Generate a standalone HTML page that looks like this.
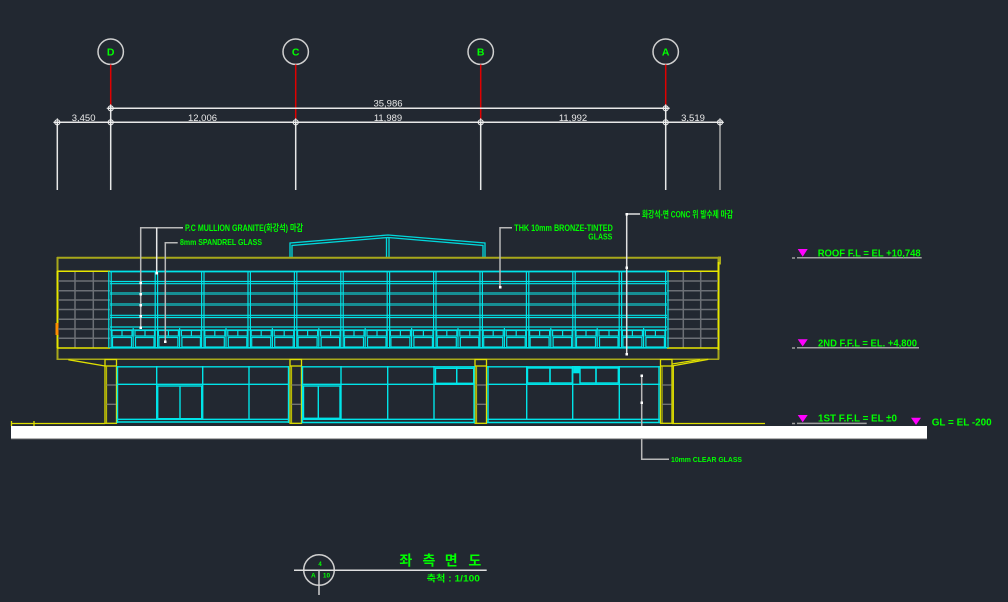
<!DOCTYPE html>
<html><head><meta charset="utf-8"><style>
html,body{margin:0;padding:0;background:#222831;}
svg{display:block;}
.g{fill:#00ff00;font-family:"Liberation Sans","Noto Sans CJK KR",sans-serif;font-weight:bold;}
.d{fill:#e8e8e8;font-family:"Liberation Sans",sans-serif;font-size:9.5px;text-anchor:middle;}
</style></head><body>
<svg width="1008" height="602" viewBox="0 0 1008 602" xmlns="http://www.w3.org/2000/svg">
<rect width="1008" height="602" fill="#222831"/>
<defs>
<g id="units" fill="none" stroke="#00e4e8" stroke-width="1.2">
<rect x="2" y="330.5" width="20" height="5.5"/><line x1="12" y1="330.5" x2="12" y2="336"/>
<rect x="2.5" y="337.5" width="19" height="9.5"/>
<rect x="25" y="330.5" width="19.5" height="5.5"/><line x1="35" y1="330.5" x2="35" y2="336"/>
<rect x="25.5" y="337.5" width="18.5" height="9.5"/>
<line x1="23.2" y1="328" x2="23.2" y2="348"/>
</g>
<g id="mull" stroke="#00e4e8" stroke-width="1.2">
<line x1="-1.2" y1="271" x2="-1.2" y2="348"/><line x1="1.2" y1="271" x2="1.2" y2="348"/>
</g>
<g id="col" fill="none">
<rect x="0" y="359.5" width="11.5" height="63.8" stroke="#e0e000" stroke-width="1.3"/>
<line x1="0" y1="366" x2="11.5" y2="366" stroke="#e0e000" stroke-width="1.3"/>
<line x1="1.6" y1="366" x2="1.6" y2="423" stroke="#c8c800" stroke-width="1"/>
<line x1="1.6" y1="385" x2="11" y2="385" stroke="#777" stroke-width="1.3"/>
<line x1="1.6" y1="404.3" x2="11" y2="404.3" stroke="#777" stroke-width="1.3"/>
</g>
<g id="mk" fill="none" stroke="#eee" stroke-width="1">
<circle r="2.6"/><line x1="-4" y1="0" x2="4" y2="0"/><line x1="0" y1="-4" x2="0" y2="4"/>
</g>
</defs>

<!-- grid bubbles -->
<g stroke="#d0d0d0" stroke-width="1.5" fill="none">
<circle cx="110.7" cy="51.7" r="12.7"/><circle cx="295.7" cy="51.7" r="12.7"/>
<circle cx="480.7" cy="51.7" r="12.7"/><circle cx="665.7" cy="51.7" r="12.7"/>
</g>
<g class="g" font-size="10.5" text-anchor="middle">
<text x="110.7" y="55.7">D</text><text x="295.7" y="55.7">C</text>
<text x="480.7" y="55.7">B</text><text x="665.7" y="55.7">A</text>
</g>
<g stroke="#e00000" stroke-width="1.5">
<line x1="110.7" y1="64.5" x2="110.7" y2="106"/><line x1="295.7" y1="64.5" x2="295.7" y2="120"/>
<line x1="480.7" y1="64.5" x2="480.7" y2="120"/><line x1="665.7" y1="64.5" x2="665.7" y2="106"/>
</g>
<g stroke="#e8e8e8" stroke-width="1.5">
<line x1="110.7" y1="106" x2="110.7" y2="190"/><line x1="295.7" y1="122" x2="295.7" y2="190"/>
<line x1="480.7" y1="122" x2="480.7" y2="190"/><line x1="665.7" y1="106" x2="665.7" y2="190"/>
<line x1="57.3" y1="122" x2="57.3" y2="190"/>
<line x1="108" y1="108.3" x2="669.5" y2="108.3"/>
<line x1="54" y1="122.3" x2="723" y2="122.3"/>
</g>
<line x1="720" y1="122" x2="720" y2="190" stroke="#aaa" stroke-width="1.5"/>
<use href="#mk" x="110.7" y="108.3"/><use href="#mk" x="665.7" y="108.3"/>
<use href="#mk" x="57.3" y="122.3"/><use href="#mk" x="110.7" y="122.3"/>
<use href="#mk" x="295.7" y="122.3"/><use href="#mk" x="480.7" y="122.3"/>
<use href="#mk" x="665.7" y="122.3"/><use href="#mk" x="720" y="122.3"/>
<text class="d" x="388" y="106.5">35,986</text>
<text class="d" x="83.6" y="121">3,450</text>
<text class="d" x="202.5" y="121">12,006</text>
<text class="d" x="388" y="121">11,989</text>
<text class="d" x="573" y="121">11,992</text>
<text class="d" x="693" y="121">3,519</text>

<!-- roof gable -->
<g fill="none" stroke="#00d8dc" stroke-width="1.3">
<polyline points="290,257 290,243 388,235 485,243 485,257"/>
<polyline points="292,257 292,245.5 388,237.5 483,245.5 483,257"/>
<line x1="386.5" y1="237" x2="386.5" y2="257"/><line x1="389" y1="237" x2="389" y2="257"/>
</g>

<!-- upper box -->
<line x1="57" y1="257.7" x2="720" y2="257.7" stroke="#a8a81a" stroke-width="2"/>
<rect x="718" y="256.5" width="3" height="8" fill="#a8a81a"/>
<line x1="57.5" y1="257" x2="57.5" y2="360" stroke="#a8a81a" stroke-width="2"/>
<line x1="57.5" y1="271" x2="57.5" y2="348" stroke="#e6e600" stroke-width="2"/>
<rect x="55.5" y="323" width="3" height="12" fill="#ff8c00"/>
<line x1="718.5" y1="258" x2="718.5" y2="359.5" stroke="#a8a81a" stroke-width="2"/>
<line x1="718.5" y1="262" x2="718.5" y2="350" stroke="#e6e600" stroke-width="2"/>
<line x1="57" y1="359.3" x2="719" y2="359.3" stroke="#a8a81a" stroke-width="1.5"/>

<!-- side grey panels -->
<g stroke="#6c7076" stroke-width="1.5">
<line x1="58" y1="281" x2="110" y2="281"/><line x1="58" y1="290.7" x2="110" y2="290.7"/>
<line x1="58" y1="300" x2="110" y2="300"/><line x1="58" y1="309.5" x2="110" y2="309.5"/>
<line x1="58" y1="319.3" x2="110" y2="319.3"/><line x1="58" y1="329" x2="110" y2="329"/>
<line x1="58" y1="338.3" x2="110" y2="338.3"/>
<line x1="75" y1="271" x2="75" y2="348"/><line x1="93.3" y1="271" x2="93.3" y2="348"/>
<line x1="667" y1="281" x2="718" y2="281"/><line x1="667" y1="290.7" x2="718" y2="290.7"/>
<line x1="667" y1="300" x2="718" y2="300"/><line x1="667" y1="309.5" x2="718" y2="309.5"/>
<line x1="667" y1="319.3" x2="718" y2="319.3"/><line x1="667" y1="329" x2="718" y2="329"/>
<line x1="667" y1="338.3" x2="718" y2="338.3"/>
<line x1="683.3" y1="271" x2="683.3" y2="348"/><line x1="700.7" y1="271" x2="700.7" y2="348"/>
</g>
<g stroke="#e6e600" stroke-width="1.5">
<line x1="57" y1="271.2" x2="110" y2="271.2"/><line x1="57" y1="348" x2="110" y2="348"/>
<line x1="667" y1="271.2" x2="719" y2="271.2"/><line x1="667" y1="348" x2="719" y2="348"/>
</g>

<!-- curtain wall -->
<g stroke-width="3" stroke="#168e93">
<line x1="110" y1="293.5" x2="667" y2="293.5"/><line x1="110" y1="304.5" x2="667" y2="304.5"/>
</g>
<g stroke="#00e4e8" stroke-width="1.2">
<line x1="110" y1="271.5" x2="667" y2="271.5" stroke-width="1.7"/>
<line x1="110" y1="281.5" x2="667" y2="281.5"/><line x1="110" y1="283.7" x2="667" y2="283.7"/>
<line x1="110" y1="315.3" x2="667" y2="315.3"/><line x1="110" y1="317.5" x2="667" y2="317.5"/>
<line x1="110" y1="327" x2="667" y2="327"/>
<line x1="110" y1="330" x2="667" y2="330"/>
<line x1="110" y1="347.8" x2="667" y2="347.8" stroke-width="1.7"/>
</g>
<use href="#mull" x="110"/><use href="#mull" x="156.4"/><use href="#mull" x="202.8"/>
<use href="#mull" x="249.2"/><use href="#mull" x="295.6"/><use href="#mull" x="342"/>
<use href="#mull" x="388.4"/><use href="#mull" x="434.8"/><use href="#mull" x="481.2"/>
<use href="#mull" x="527.6"/><use href="#mull" x="574"/><use href="#mull" x="620.4"/>
<use href="#mull" x="666.8"/>
<use href="#units" x="110"/><use href="#units" x="156.4"/><use href="#units" x="202.8"/>
<use href="#units" x="249.2"/><use href="#units" x="295.6"/><use href="#units" x="342"/>
<use href="#units" x="388.4"/><use href="#units" x="434.8"/><use href="#units" x="481.2"/>
<use href="#units" x="527.6"/><use href="#units" x="574"/><use href="#units" x="620.4"/>

<!-- lower level -->
<g stroke="#e0e000" stroke-width="1.3" fill="none">
<line x1="68.3" y1="359.7" x2="105" y2="366"/>
<line x1="672" y1="366" x2="708.3" y2="359.3"/>
<line x1="672" y1="364" x2="700" y2="359.5"/>
<line x1="673.3" y1="366" x2="673.3" y2="423"/>
</g>
<use href="#col" x="105"/><use href="#col" x="290"/><use href="#col" x="475"/><use href="#col" x="660.5"/>

<g stroke="#00e4e8" stroke-width="1.4" fill="none">
<!-- bay1 -->
<line x1="116.5" y1="366.8" x2="289" y2="366.8"/>
<line x1="116.5" y1="384.3" x2="289" y2="384.3"/>
<line x1="116.5" y1="419.3" x2="289" y2="419.3"/>
<line x1="116.5" y1="422" x2="289" y2="422"/>
<line x1="117.5" y1="366" x2="117.5" y2="423"/>
<line x1="156.7" y1="366" x2="156.7" y2="419.3"/>
<line x1="202.7" y1="366" x2="202.7" y2="419.3"/>
<line x1="249" y1="366" x2="249" y2="419.3"/>
<line x1="288.5" y1="366" x2="288.5" y2="423"/>
<rect x="157.7" y="386" width="44" height="32.7"/>
<line x1="180" y1="386" x2="180" y2="418.7"/>
<!-- bay2 -->
<line x1="301.5" y1="366.8" x2="475" y2="366.8"/>
<line x1="301.5" y1="384.3" x2="475" y2="384.3"/>
<line x1="301.5" y1="419.3" x2="475" y2="419.3"/>
<line x1="301.5" y1="422.5" x2="475" y2="422.5"/>
<line x1="302.5" y1="366" x2="302.5" y2="423"/>
<line x1="341" y1="366" x2="341" y2="419.3"/>
<line x1="387.7" y1="366" x2="387.7" y2="419.3"/>
<line x1="434" y1="366" x2="434" y2="419.3"/>
<line x1="474" y1="366" x2="474" y2="423"/>
<rect x="303.5" y="386" width="36.5" height="32.3"/>
<line x1="318.3" y1="386" x2="318.3" y2="418.3"/>
<rect x="435.5" y="368.3" width="21.2" height="15"/>
<rect x="456.7" y="368.3" width="17" height="15"/>
<!-- bay3 -->
<line x1="487" y1="366.8" x2="660" y2="366.8"/>
<line x1="487" y1="384.3" x2="660" y2="384.3"/>
<line x1="487" y1="419.3" x2="660" y2="419.3"/>
<line x1="487" y1="422.5" x2="660" y2="422.5"/>
<line x1="488" y1="366" x2="488" y2="423"/>
<line x1="526.7" y1="366" x2="526.7" y2="419.3"/>
<line x1="572.7" y1="366" x2="572.7" y2="419.3"/>
<line x1="619.3" y1="366" x2="619.3" y2="419.3"/>
<line x1="659" y1="366" x2="659" y2="423"/>
<rect x="527.5" y="368" width="22.5" height="15"/>
<rect x="550" y="368" width="22.3" height="15"/>
<rect x="580" y="368" width="16" height="15"/>
<rect x="596" y="368" width="22.3" height="15"/>
</g>
<rect x="573.3" y="366" width="6.7" height="7.3" fill="#00e4e8"/>

<!-- ground lines -->
<g stroke="#e0e000" stroke-width="1.3">
<line x1="11" y1="423.5" x2="105" y2="423.5"/><line x1="34" y1="421" x2="34" y2="426"/>
<line x1="11.5" y1="421" x2="11.5" y2="426"/>
<line x1="672" y1="423.5" x2="765" y2="423.5"/>
</g>

<!-- leaders -->
<g fill="none" stroke="#b8b8b8" stroke-width="1.5">
<polyline points="183,227.7 140.7,227.7 140.7,327.7"/>
<polyline points="156.7,227.7 156.7,273.3" stroke="#e8e8e8"/>
<polyline points="177.7,242.7 165.3,242.7 165.3,341.7"/>
<polyline points="512,227.7 500,227.7 500,287.3"/>
<polyline points="640,214 626.7,214 626.7,354" stroke="#e0e0e0"/>
<polyline points="641.7,375.7 641.7,459.3 669,459.3"/>
</g>
<g fill="#fff">
<rect x="139.5" y="281.7" width="2.5" height="2.5"/><rect x="139.5" y="293" width="2.5" height="2.5"/>
<rect x="139.5" y="304" width="2.5" height="2.5"/><rect x="139.5" y="315" width="2.5" height="2.5"/>
<rect x="139.5" y="326.5" width="2.5" height="2.5"/><rect x="155.5" y="272" width="2.5" height="2.5"/>
<rect x="164" y="340.5" width="2.5" height="2.5"/><rect x="499" y="286" width="2.5" height="2.5"/>
<rect x="625.5" y="213" width="2.5" height="2.5"/><rect x="625.5" y="266.5" width="2.5" height="2.5"/>
<rect x="625.5" y="353" width="2.5" height="2.5"/>
<rect x="640.5" y="374.5" width="2.5" height="2.5"/><rect x="640.5" y="401.5" width="2.5" height="2.5"/>
</g>

<!-- ground strip -->
<rect x="11" y="426" width="916" height="12.5" fill="#ffffff"/>
<line x1="11" y1="438.8" x2="927" y2="438.8" stroke="#9a9a9a" stroke-width="1"/>

<!-- labels -->
<text class="g" x="185" y="231" font-size="9" textLength="118" lengthAdjust="spacingAndGlyphs">P.C MULLION GRANITE(화강석) 마감</text>
<text class="g" x="180" y="245" font-size="8.5" textLength="82" lengthAdjust="spacingAndGlyphs">8mm SPANDREL GLASS</text>
<text class="g" x="514.3" y="231" font-size="9" textLength="98.5" lengthAdjust="spacingAndGlyphs">THK 10mm BRONZE-TINTED</text>
<text class="g" x="588.3" y="239.5" font-size="8.5" textLength="24" lengthAdjust="spacingAndGlyphs">GLASS</text>
<text class="g" x="642" y="217.3" font-size="9" textLength="91" lengthAdjust="spacingAndGlyphs">화강석-면 CONC 위 발수제 마감</text>
<text class="g" x="671" y="461.8" font-size="7.5" textLength="71" lengthAdjust="spacingAndGlyphs">10mm CLEAR GLASS</text>

<!-- levels -->
<g fill="#ff00ff">
<polygon points="797.7,249 807.7,249 802.7,256.7"/>
<polygon points="797.7,339.3 807.7,339.3 802.7,346.5"/>
<polygon points="797.7,415 807.7,415 802.7,422.2"/>
<polygon points="911,417.7 921,417.7 916,425"/>
</g>
<g stroke="#a0a0a0" stroke-width="1.5">
<line x1="797" y1="257.8" x2="921.7" y2="257.8"/><line x1="792" y1="258" x2="795" y2="258"/>
<line x1="797" y1="347.8" x2="919" y2="347.8"/><line x1="792" y1="348" x2="795" y2="348"/>
<line x1="797" y1="423.4" x2="866.7" y2="423.4"/><line x1="792" y1="423.5" x2="795" y2="423.5"/>
</g>
<text class="g" x="817.7" y="256.7" font-size="10.5" textLength="103" lengthAdjust="spacingAndGlyphs">ROOF F.L = EL +10,748</text>
<text class="g" x="818" y="346.7" font-size="10" textLength="99" lengthAdjust="spacingAndGlyphs">2ND F.F.L = EL. +4,800</text>
<text class="g" x="818" y="421.7" font-size="10" textLength="79" lengthAdjust="spacingAndGlyphs">1ST F.F.L = EL ±0</text>
<text class="g" x="931.7" y="425.7" font-size="10.5" textLength="60" lengthAdjust="spacingAndGlyphs">GL = EL -200</text>

<!-- title -->
<circle cx="319" cy="570" r="15.3" fill="none" stroke="#cfcfcf" stroke-width="1.5"/>
<line x1="294" y1="570.3" x2="486.7" y2="570.3" stroke="#e0e0e0" stroke-width="1.5"/>
<line x1="319" y1="570" x2="319" y2="595" stroke="#cfcfcf" stroke-width="1.5"/>
<text class="g" x="320" y="566" font-size="6" text-anchor="middle">4</text>
<text class="g" x="313.3" y="577.7" font-size="6.5" text-anchor="middle">A</text>
<text class="g" x="326.5" y="577.7" font-size="6.5" text-anchor="middle">10</text>
<g class="g" font-size="14" text-anchor="middle">
<text x="405.8" y="565.5">좌</text><text x="429" y="565.5">측</text>
<text x="451.2" y="565.5">면</text><text x="474.8" y="565.5">도</text>
</g>
<text class="g" x="426.7" y="581.3" font-size="9" textLength="53.3" lengthAdjust="spacingAndGlyphs">축척 : 1/100</text>
</svg>
</body></html>
